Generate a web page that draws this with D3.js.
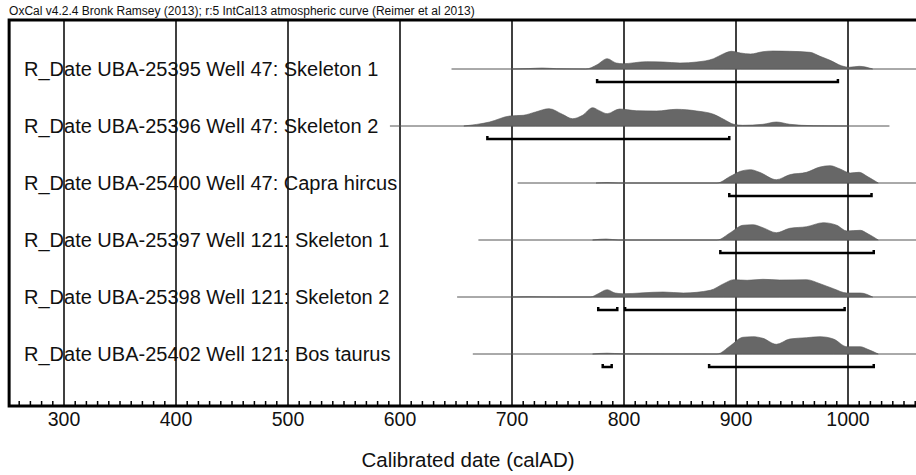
<!DOCTYPE html>
<html>
<head>
<meta charset="utf-8">
<script src="https://cdn.jsdelivr.net/npm/d3@7/dist/d3.min.js"></script>
<style>
  body { margin: 0; background: #fff; }
  svg text { font-family: "Liberation Sans", Arial, sans-serif; fill: #111; }
</style>
</head>
<body>
<div id="chart"></div>
<script>
// Calibrated dates, one per row (OxCal multiplot)
const sampleLabels = [
  "R_Date UBA-25395 Well 47: Skeleton 1",
  "R_Date UBA-25396 Well 47: Skeleton 2",
  "R_Date UBA-25400 Well 47: Capra hircus",
  "R_Date UBA-25397 Well 121: Skeleton 1",
  "R_Date UBA-25398 Well 121: Skeleton 2",
  "R_Date UBA-25402 Well 121: Bos taurus",
];

// extent of the thin baseline for each distribution (calAD)
const baselineExtents = [
  [646, 1065],
  [591, 1037],
  [705, 1065],
  [670, 1065],
  [651, 1065],
  [665, 1065],
];

// probability densities, [year, relative height]
const densities = [
  [[700,0],[715,0.4],[727,1],[740,0.3],[766,0],[776,4.3],[785,10.3],[793,6],[799,5.3],[820,7.3],[835,7],[850,6],[865,7],[880,10.3],[889,15.3],[896,17.7],[904,16],[913,15],[924,17.3],[933,18],[948,17.7],[966,16.7],[975,12.7],[984,8.7],[994,3.3],[1001,1.7],[1010,2.7],[1022,0]],
  [[657,0],[680,4],[698,10],[710,10.7],[721,14],[733,17.3],[745,11.7],[754,7.3],[763,10.7],[772,18.3],[778,15.3],[785,12.3],[796,17],[811,15.3],[829,15],[847,16.7],[865,15],[880,11.7],[889,6.7],[898,1.7],[906,0.7],[924,1.7],[936,4],[948,1.7],[969,0.3],[999,0]],
  [[775,0],[785,0.4],[795,0],[883,0],[895,6.7],[904,11.7],[913,13.3],[921,10.7],[936,3.3],[948,8.3],[963,10.7],[975,16],[984,17.3],[993,14],[1002,10],[1010,10.7],[1017,6.7],[1027,0]],
  [[772,0],[784,1],[795,0],[883,0],[895,7.3],[906,14.7],[915,15.3],[924,12.3],[936,7.3],[948,11.7],[963,13.3],[978,17.3],[990,14.7],[999,9],[1011,9.7],[1017,6.7],[1027,0]],
  [[700,0],[716,0.3],[740,0],[770,0],[777,3.3],[785,7.3],[792,4],[799,3.3],[835,5],[853,4],[877,6.7],[889,13.3],[898,17.3],[910,16.7],[924,17.7],[939,17],[963,17.3],[975,13.3],[987,8.3],[999,4],[1011,4],[1022,0]],
  [[772,0],[785,0.8],[798,0.2],[883,0],[895,8.3],[906,16.7],[915,17.3],[924,15.7],[936,9.7],[948,15],[963,16.3],[975,17.3],[987,15],[999,7.3],[1011,7.3],[1017,5],[1027,0]],
];

// 95.4% highest posterior density ranges
const hpdRanges = [
  [[776, 991]],
  [[678, 894]],
  [[894, 1021]],
  [[886, 1023]],
  [[777, 794], [801, 997]],
  [[781, 789], [876, 1023]],
];

const majorTicks = [300, 400, 500, 600, 700, 800, 900, 1000];
const headerText = "OxCal v4.2.4 Bronk Ramsey (2013); r:5 IntCal13 atmospheric curve (Reimer et al 2013)";
const axisTitle = "Calibrated date (calAD)";

const width = 916;
const height = 475;
const frameTop = 20;
const axisY = 406;
const yearMin = 251;

const svg = d3
  .select("#chart")
  .append("svg")
  .attr("width", width)
  .attr("height", height);

const x = d3.scaleLinear().domain([300, 1000]).range([64, 848]);
const xLeft = x(yearMin);
const row = d3.scalePoint().domain(sampleLabels).range([69, 354]);
const dens = d3.scaleLinear().domain([0, 20]).range([0, 20]);

// header
svg
  .append("text")
  .attr("x", xLeft)
  .attr("y", 14.5)
  .attr("font-size", 12)
  .text(headerText);

// grid lines
svg
  .selectAll(".grid")
  .data(majorTicks)
  .join("line")
  .attr("class", "grid")
  .attr("x1", (d) => x(d))
  .attr("x2", (d) => x(d))
  .attr("y1", frameTop)
  .attr("y2", axisY)
  .attr("stroke", "#000")
  .attr("stroke-width", 1.5);

// row labels
svg
  .selectAll(".label")
  .data(sampleLabels)
  .join("text")
  .attr("class", "label")
  .attr("x", 24)
  .attr("y", (d) => row(d) + 6.5)
  .attr("font-size", 20)
  .text((d) => d);

const area = d3
  .area()
  .x((d) => x(d[0]))
  .y0(0)
  .y1((d) => -dens(d[1]))
  .curve(d3.curveMonotoneX);

const rows = svg
  .selectAll(".row")
  .data(sampleLabels)
  .join("g")
  .attr("class", "row")
  .attr("transform", (d) => `translate(0,${row(d)})`);

rows
  .append("line")
  .attr("x1", (d, i) => x(baselineExtents[i][0]))
  .attr("x2", (d, i) => x(baselineExtents[i][1]))
  .attr("stroke", "#555")
  .attr("stroke-width", 1);

rows
  .append("path")
  .attr("d", (d, i) => area(densities[i]))
  .attr("fill", "#676767")
  .attr("stroke", "#555")
  .attr("stroke-width", 0.6);

rows.each(function (d, i) {
  d3.select(this)
    .selectAll(".hpd")
    .data(hpdRanges[i])
    .join("path")
    .attr("class", "hpd")
    .attr("d", (r) => `M${x(r[0])},10 V13 H${x(r[1])} V10`)
    .attr("fill", "none")
    .attr("stroke", "#000")
    .attr("stroke-width", 2.5);
});

// minor ticks every 10 years
const minorTicks = d3.range(260, 1070, 10).filter((d) => d % 100 !== 0);
svg
  .selectAll(".minor")
  .data(minorTicks)
  .join("line")
  .attr("class", "minor")
  .attr("x1", (d) => x(d))
  .attr("x2", (d) => x(d))
  .attr("y1", axisY)
  .attr("y2", axisY - 5)
  .attr("stroke", "#000")
  .attr("stroke-width", 1.5);

// frame
svg
  .append("path")
  .attr("d", `M${width},${frameTop} H${xLeft} V${axisY} H${width}`)
  .attr("fill", "none")
  .attr("stroke", "#000")
  .attr("stroke-width", 3);

// tick labels
svg
  .selectAll(".tick-label")
  .data(majorTicks)
  .join("text")
  .attr("class", "tick-label")
  .attr("x", (d) => x(d))
  .attr("y", 425.5)
  .attr("text-anchor", "middle")
  .attr("font-size", 19.5)
  .text((d) => d);

svg
  .append("text")
  .attr("x", 468)
  .attr("y", 467)
  .attr("text-anchor", "middle")
  .attr("font-size", 20.5)
  .text(axisTitle);
</script>
</body>
</html>
